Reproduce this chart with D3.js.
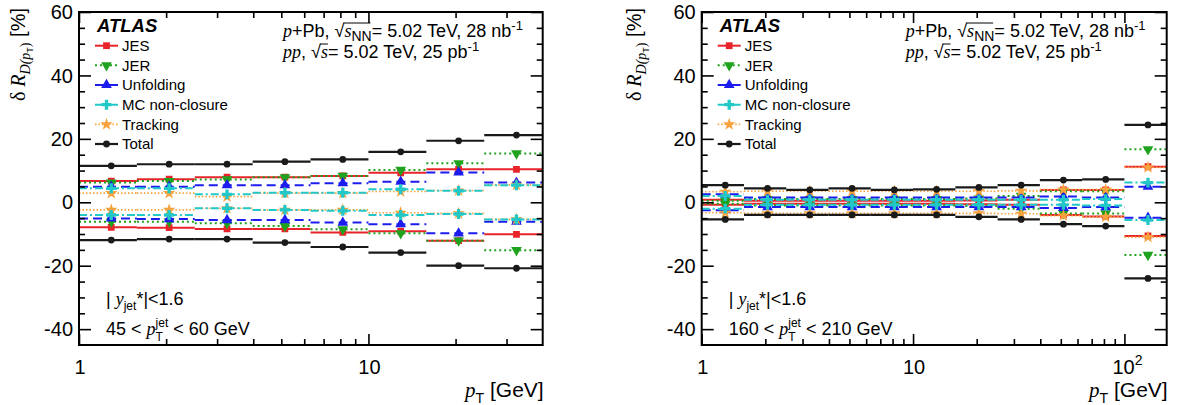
<!DOCTYPE html>
<html><head><meta charset="utf-8">
<script src="https://cdn.jsdelivr.net/npm/d3@7"></script>
<style>
body{margin:0;background:#fff}
svg text{white-space:pre}
</style>
</head><body><svg id="chart" width="1181" height="405"></svg>
<script>
// ---------------- data ----------------
const seriesNames = ["JES", "JER", "Unfolding", "MC non-closure", "Tracking", "Total"];
const yTickValues = [-40, -20, 0, 20, 40, 60];

// left panel: 45 < pT jet < 60 GeV
const leftBinEdges = [1, 1.585, 2.512, 3.981, 6.310, 10, 15.85, 25.12, 39.81];
const leftXTickLabels = ["1", "10"];
const leftJESUp   = [6.7, 7.3, 7.9, 7.9, 8.3, 9.3, 10.4, 10.4];
const leftJESLo   = [-7.9, -8.0, -8.4, -8.4, -9.5, -9.1, -12.1, -10.1];
const leftJERUp   = [6.2, 6.7, 7.2, 7.9, 8.3, 10.2, 12.3, 15.4];
const leftJERLo   = [-6.1, -6.1, -6.6, -7.5, -8.5, -9.8, -12.1, -15.1];
const leftUnfUp   = [4.9, 4.9, 5.4, 5.4, 6.0, 6.5, 9.4, 6.2];
const leftUnfLo   = [-5.1, -5.3, -5.6, -5.6, -6.4, -6.9, -9.8, -6.1];
const leftMCUp    = [4.4, 4.4, 2.5, 3.0, 3.0, 4.1, 3.6, 5.4];
const leftMCLo    = [-4.0, -4.0, -1.9, -2.4, -2.7, -4.0, -3.7, -5.4];
const leftTrkUp   = [2.9, 2.9, 1.8, 2.9, 2.9, 3.4, 3.7, 5.5];
const leftTrkLo   = [-2.4, -2.4, -1.9, -2.4, -2.4, -3.3, -3.5, -5.4];
const leftTotUp   = [11.5, 12.0, 12.0, 12.8, 13.5, 15.9, 19.4, 21.2];
const leftTotLo   = [-11.9, -11.6, -11.6, -12.7, -14.1, -15.9, -20.0, -20.8];

// right panel: 160 < pT jet < 210 GeV
const rightBinEdges = [1, 1.585, 2.512, 3.981, 6.310, 10, 15.85, 25.12, 39.81, 63.10, 100, 158.5];
const rightXTickLabels = ["1", "10", "10^2"];
const rightJESUp  = [0.8, 0.5, 0.5, 0.5, 0.5, 0.5, 0.6, 0.8, 3.9, 3.9, 11.2];
const rightJESLo  = [-0.8, -0.5, -0.5, -0.5, -0.5, -0.5, -0.6, -0.8, -4.0, -4.5, -10.6];
const rightJERUp  = [0.5, 1.0, 1.0, 1.0, 1.0, 1.0, 1.2, 2.0, 3.5, 3.5, 16.7];
const rightJERLo  = [-0.5, -1.0, -1.0, -1.0, -1.0, -1.0, -1.2, -2.0, -3.5, -3.5, -16.6];
const rightUnfUp  = [2.5, 1.5, 1.5, 1.5, 1.5, 1.5, 1.5, 1.5, 1.8, 1.5, 4.9];
const rightUnfLo  = [-2.5, -1.5, -1.5, -1.5, -1.5, -1.5, -1.5, -1.5, -1.8, -1.5, -4.9];
const rightMCUp   = [2.0, 0.8, 0.8, 0.8, 0.8, 0.8, 0.8, 0.8, 0.8, 1.0, 6.2];
const rightMCLo   = [-2.0, -0.8, -0.8, -0.8, -0.8, -0.8, -0.8, -0.8, -0.8, -1.0, -5.6];
const rightTrkUp  = [3.3, 3.5, 3.5, 3.5, 3.5, 3.5, 3.5, 3.6, 4.0, 4.0, 11.0];
const rightTrkLo  = [-3.3, -3.5, -3.5, -3.5, -3.5, -3.5, -3.5, -3.6, -4.2, -4.6, -11.0];
const rightTotUp  = [5.4, 4.4, 3.9, 4.4, 3.9, 4.1, 4.7, 5.4, 7.0, 7.2, 24.4];
const rightTotLo  = [-5.4, -4.0, -4.0, -4.0, -4.0, -4.0, -4.6, -5.4, -6.9, -7.5, -24.0];

// ---------------- styles ----------------
const SANS = '"Liberation Sans", Arial, Helvetica, sans-serif';
const SERIF = '"Liberation Serif", "Times New Roman", serif';
const styles = {
  "JES":            {color: "#e8242a", dash: null,        width: 2,   sym: d3.symbolSquare,   size: 46, rot: 0},
  "JER":            {color: "#1fa31f", dash: "2,3",       width: 2,   sym: d3.symbolTriangle, size: 50, rot: 180},
  "Unfolding":      {color: "#1c1cee", dash: "9,5",       width: 2,   sym: d3.symbolTriangle, size: 50, rot: 0},
  "MC non-closure": {color: "#22c8c8", dash: "8,3,2,3",   width: 2,   sym: d3.symbolCross,    size: 55, rot: 0},
  "Tracking":       {color: "#f7a23c", dash: "1.5,2",     width: 1.6, sym: d3.symbolStar,     size: 50, rot: 0},
  "Total":          {color: "#1a1a1a", dash: null,        width: 2.2, sym: d3.symbolCircle,   size: 36, rot: 0}
};
const drawOrder = ["JES", "JER", "Unfolding", "Tracking", "MC non-closure", "Total"];

const svg = d3.select("#chart");
svg.append("rect").attr("width", 1181).attr("height", 405).attr("fill", "#fff");

function rich(parent, x, y, runs, anchor, extra) {
  const g = parent.append("g");
  const inner = g.append("g");
  let cx = 0, hold = null;
  runs.forEach(r => {
    const t = inner.append("text")
      .attr("x", cx).attr("y", r.dy || 0)
      .style("font-family", r.serif ? SERIF : SANS)
      .style("font-size", r.size + "px")
      .style("font-style", r.it ? "italic" : "normal")
      .style("font-weight", r.b ? "bold" : "normal")
      .attr("fill", "#000")
      .text(r.t);
    const w = t.node().getComputedTextLength();
    if (r.over) {
      inner.append("line").attr("x1", cx - 1).attr("x2", cx + w + (r.overExtra || 0))
        .attr("y1", r.over).attr("y2", r.over).attr("stroke", "#000").attr("stroke-width", 1);
    }
    if (r.hold) { hold = w; return; }
    if (hold !== null) { cx += Math.max(hold, w); hold = null; } else cx += w;
  });
  const shift = anchor === "end" ? -cx : anchor === "middle" ? -cx / 2 : 0;
  inner.attr("transform", `translate(${shift},0)`);
  g.attr("transform", `translate(${x},${y})` + (extra || ""));
  return cx;
}

function drawPanel(p) {
  const x = d3.scaleLog().domain([1, p.xmax]).range([p.x0, p.x1]);
  const y = d3.scaleLinear().domain([-45, 60]).range([p.y1, p.y0]);
  const g = svg.append("g");
  const clipId = "clip" + p.id;
  svg.append("clipPath").attr("id", clipId).append("rect")
    .attr("x", p.x0).attr("y", p.y0).attr("width", p.x1 - p.x0).attr("height", p.y1 - p.y0);

  // data
  const dataG = g.append("g").attr("clip-path", `url(#${clipId})`);
  drawOrder.forEach(name => {
    const st = styles[name];
    const s = p.series[name];
    [s.up, s.lo].forEach(vals => {
      vals.forEach((v, i) => {
        dataG.append("line")
          .attr("x1", x(p.edges[i])).attr("x2", x(p.edges[i + 1]))
          .attr("y1", y(v)).attr("y2", y(v))
          .attr("stroke", st.color).attr("stroke-width", st.width)
          .attr("stroke-dasharray", st.dash);
      });
    });
    const sym = d3.symbol(st.sym, st.size);
    [s.up, s.lo].forEach(vals => {
      vals.forEach((v, i) => {
        const xc = (p.edges[i] + p.edges[i + 1]) / 2;
        dataG.append("path").attr("d", sym())
          .attr("transform", `translate(${x(xc)},${y(v)}) rotate(${st.rot})`)
          .attr("fill", st.color);
      });
    });
  });

  // axes
  const majorX = [1, 10, 100].filter(v => v <= p.xmax);
  const minorX = [];
  [1, 10, 100].forEach(d => { for (let k = 2; k <= 9; k++) { const v = d * k; if (v < p.xmax * 0.999) minorX.push(v); } });
  const minorY = d3.range(-45, 61, 5).filter(v => v % 20 !== 0 && v > -45 && v < 60);

  const axG = g.append("g").attr("class", "axes");
  const addAxis = (axis, tx, ty) => {
    const a = axG.append("g").attr("transform", `translate(${tx},${ty})`).call(axis);
    a.select(".domain").remove();
    a.selectAll("line").attr("stroke", "#000").attr("stroke-width", 1.6);
    a.selectAll("text").remove();
    return a;
  };
  addAxis(d3.axisBottom(x).tickValues(majorX).tickSize(-11), 0, p.y1);
  addAxis(d3.axisBottom(x).tickValues(minorX).tickSize(-6), 0, p.y1);
  addAxis(d3.axisTop(x).tickValues(majorX).tickSize(-11), 0, p.y0);
  addAxis(d3.axisTop(x).tickValues(minorX).tickSize(-6), 0, p.y0);
  addAxis(d3.axisLeft(y).tickValues(yTickValues).tickSize(-12), p.x0, 0);
  addAxis(d3.axisLeft(y).tickValues(minorY).tickSize(-6), p.x0, 0);
  addAxis(d3.axisRight(y).tickValues(yTickValues).tickSize(-12), p.x1, 0);
  addAxis(d3.axisRight(y).tickValues(minorY).tickSize(-6), p.x1, 0);

  // y tick labels
  yTickValues.forEach(v => {
    g.append("text").attr("x", p.x0 - 6).attr("y", y(v)).attr("dy", "0.36em")
      .attr("text-anchor", "end").style("font-family", SANS).style("font-size", "20px")
      .text(v);
  });
  // x tick labels
  majorX.forEach((v, i) => {
    const lab = p.xLabels[i];
    if (lab.indexOf("^") >= 0) {
      const [b, e] = lab.split("^");
      rich(g, x(v) + 3, 374, [{t: b, size: 20}, {t: e, size: 14, dy: -9}], "middle");
    } else {
      rich(g, x(v) + 1, 374, [{t: lab, size: 20}], "middle");
    }
  });

  // frame
  g.append("rect").attr("x", p.x0).attr("y", p.y0).attr("width", p.x1 - p.x0).attr("height", p.y1 - p.y0)
    .attr("fill", "none").attr("stroke", "#000").attr("stroke-width", 2);

  // axis titles
  rich(g, p.x1 + 1, 397, [
    {t: "p", size: 21, serif: true, it: true},
    {t: "T", size: 14, dy: 6},
    {t: " [GeV]", size: 21}
  ], "end");
  rich(g, p.yTitleX, 8, [
    {t: "δ", size: 20, serif: true},
    {t: " "+"R", size: 20, serif: true, it: true},
    {t: "D(", size: 14, serif: true, it: true, dy: 5},
    {t: "p", size: 14, serif: true, it: true, dy: 5},
    {t: "T", size: 9, dy: 8},
    {t: ")", size: 14, serif: true, dy: 5},
    {t: " [%]", size: 20}
  ], "end", " rotate(-90)");

  // ATLAS + legend
  rich(g, p.x0 + 18, 32, [{t: "ATLAS", size: 18.5, b: true, it: true}], "start");
  seriesNames.forEach((name, i) => {
    const st = styles[name];
    const cy = 45.7 + i * 19.66;
    g.append("line").attr("x1", p.x0 + 16).attr("x2", p.x0 + 39).attr("y1", cy).attr("y2", cy)
      .attr("stroke", st.color).attr("stroke-width", st.width).attr("stroke-dasharray", st.dash);
    g.append("path").attr("d", d3.symbol(st.sym, st.size)())
      .attr("transform", `translate(${p.x0 + 27.5},${cy}) rotate(${st.rot})`).attr("fill", st.color);
    g.append("text").attr("x", p.x0 + 43).attr("y", cy).attr("dy", "0.36em")
      .style("font-family", SANS).style("font-size", "15px").text(name);
  });

  // energy / lumi text
  const tx = p.x0 + 204;
  rich(g, tx, 37, [
    {t: "p", size: 18, serif: true, it: true},
    {t: "+Pb, ", size: 18},
    {t: "√", size: 18},
    {t: "s", size: 18, serif: true, it: true, over: -14, overExtra: 19},
    {t: "NN", size: 14, dy: 4},
    {t: "= 5.02 TeV, 28 nb", size: 18},
    {t: "-1", size: 13, dy: -7}
  ], "start");
  rich(g, tx, 58, [
    {t: "pp", size: 18, serif: true, it: true},
    {t: ", ", size: 18},
    {t: "√", size: 18},
    {t: "s", size: 18, serif: true, it: true, over: -14},
    {t: "= 5.02 TeV, 25 pb", size: 18},
    {t: "-1", size: 13, dy: -7}
  ], "start");

  // selection text
  const bx = p.x0 + 27;
  rich(g, bx, 305, [
    {t: "| ", size: 18},
    {t: "y", size: 18, serif: true, it: true},
    {t: "jet", size: 12, dy: 5},
    {t: "*|<1.6", size: 18}
  ], "start");
  rich(g, bx, 335, [
    {t: p.ptLo + " < ", size: 18},
    {t: "p", size: 18, serif: true, it: true},
    {t: "T", size: 12, dy: 6, hold: true},
    {t: "jet", size: 12, dy: -8},
    {t: " < " + p.ptHi + " GeV", size: 18}
  ], "start");
}

drawPanel({
  id: "L", x0: 79, x1: 542.7, y0: 12, y1: 345, xmax: 40, edges: leftBinEdges, xLabels: leftXTickLabels,
  yTitleX: 25, ptLo: "45", ptHi: "60",
  series: {
    "JES": {up: leftJESUp, lo: leftJESLo}, "JER": {up: leftJERUp, lo: leftJERLo},
    "Unfolding": {up: leftUnfUp, lo: leftUnfLo}, "MC non-closure": {up: leftMCUp, lo: leftMCLo},
    "Tracking": {up: leftTrkUp, lo: leftTrkLo}, "Total": {up: leftTotUp, lo: leftTotLo}
  }
});
drawPanel({
  id: "R", x0: 701.7, x1: 1166.7, y0: 12, y1: 345, xmax: 158.5, edges: rightBinEdges, xLabels: rightXTickLabels,
  yTitleX: 641, ptLo: "160", ptHi: "210",
  series: {
    "JES": {up: rightJESUp, lo: rightJESLo}, "JER": {up: rightJERUp, lo: rightJERLo},
    "Unfolding": {up: rightUnfUp, lo: rightUnfLo}, "MC non-closure": {up: rightMCUp, lo: rightMCLo},
    "Tracking": {up: rightTrkUp, lo: rightTrkLo}, "Total": {up: rightTotUp, lo: rightTotLo}
  }
});
</script>
</body></html>
